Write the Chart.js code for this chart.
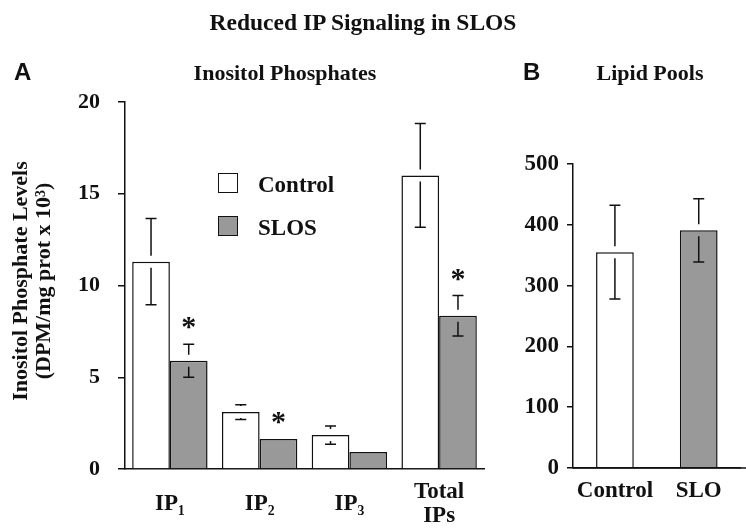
<!DOCTYPE html>
<html><head><meta charset="utf-8">
<script src="https://cdn.jsdelivr.net/npm/chart.js@4"></script>
<style>
html,body{margin:0;padding:0;background:#fff}
body{width:746px;height:532px;overflow:hidden;position:relative;font-family:"Liberation Serif","Times New Roman",serif;font-weight:bold;color:#111}
.t{position:absolute;white-space:nowrap;line-height:1}
.sans{font-family:"Liberation Sans",Arial,sans-serif}
canvas{position:absolute;top:0}
.box{position:absolute;width:18px;height:18px;border:1.5px solid #111}
sup{font-size:14px;vertical-align:top;position:relative;top:-2px}
</style></head><body>
<canvas id="ca" width="500" height="532" style="left:0"></canvas>
<canvas id="cb" width="246" height="532" style="left:500px"></canvas>

<div class="t" style="left:0;width:726px;top:11px;text-align:center;font-size:23.5px">Reduced IP Signaling in SLOS</div>
<div class="t sans" style="left:14px;top:60px;font-size:24px">A</div>
<div class="t sans" style="left:523px;top:60px;font-size:24px">B</div>
<div class="t" style="left:135px;width:300px;top:62px;text-align:center;font-size:22px">Inositol Phosphates</div>
<div class="t" style="left:550px;width:200px;top:62px;text-align:center;font-size:22px">Lipid Pools</div>
<div class="t" style="left:-119px;top:258px;width:300px;height:46px;text-align:center;font-size:22px;line-height:23px;transform:rotate(-90deg)">Inositol Phosphate Levels<br>(DPM/mg prot x 10<sup>3</sup>)</div>

<div class="box" style="left:218px;top:173px;background:#fff"></div>
<div class="t" style="left:258px;top:173px;font-size:23px">Control</div>
<div class="box" style="left:218px;top:216px;background:#999"></div>
<div class="t" style="left:258px;top:216px;font-size:23px">SLOS</div>

<script>
// Panel A data
const categoriesA = ['IP\u2081', 'IP\u2082', 'IP\u2083', ['Total', 'IPs']];
const controlA = [11.3, 3.1, 1.85, 16.0];
const controlErrA = [2.35, 0.4, 0.5, 2.83];
const slosA = [5.9, 1.63, 0.93, 8.35];
const slosErrA = [0.9, 0, 0, 1.1];
const sigA = [true, true, false, true];
const ticksA = [0, 5, 10, 15, 20];

// Panel B data
const categoriesB = ['Control', 'SLO'];
const valuesB = [355, 391];
const errB = [77, 52];
const ticksB = [0, 100, 200, 300, 400, 500];

const INK = '#111';
const GREY = '#999';
const FONT = '"Liberation Serif","Times New Roman",serif';

const errPlugin = {
  id: 'errbars',
  afterDatasetsDraw(chart) {
    const ctx = chart.ctx, ys = chart.scales.y;
    ctx.save();
    ctx.strokeStyle = INK; ctx.lineWidth = 1.5; ctx.fillStyle = INK;
    chart.data.datasets.forEach((ds, i) => {
      const meta = chart.getDatasetMeta(i);
      meta.data.forEach((bar, j) => {
        const v = ds.data[j], e = ds.errors ? ds.errors[j] : 0;
        const x = bar.x, top = bar.y, gap = 6, hw = 5.5;
        let upper = top;
        if (e > 0) {
          const hi = ys.getPixelForValue(v + e), lo = ys.getPixelForValue(v - e);
          ctx.beginPath();
          ctx.moveTo(x - hw, hi); ctx.lineTo(x + hw, hi);
          ctx.moveTo(x - hw, lo); ctx.lineTo(x + hw, lo);
          if (top - gap > hi) { ctx.moveTo(x, hi); ctx.lineTo(x, top - gap); }
          if (lo > top + gap) { ctx.moveTo(x, top + gap); ctx.lineTo(x, lo); }
          ctx.stroke();
          upper = hi;
        }
        if (ds.stars && ds.stars[j]) {
          ctx.font = 'bold 30px ' + FONT;
          ctx.textAlign = 'center';
          ctx.textBaseline = 'alphabetic';
          ctx.fillText('*', x, upper - 22 + 14);
        }
      });
    });
    ctx.restore();
  }
};

// extends the category axis line to the right edge of its canvas (as in panel B)
const axisExtend = {
  id: 'axisExtend',
  afterDraw(chart) {
    const ctx = chart.ctx, a = chart.chartArea;
    const yb = chart.scales.y.getPixelForValue(0);
    ctx.save();
    ctx.strokeStyle = INK; ctx.lineWidth = 1.5;
    ctx.beginPath();
    ctx.moveTo(a.left, yb);
    ctx.lineTo(chart.width, yb);
    ctx.stroke();
    ctx.restore();
  }
};

function tickFont(size) { return { family: FONT, size: size, weight: 'bold', lineHeight: 1.05 }; }

new Chart(document.getElementById('ca'), {
  type: 'bar',
  data: {
    labels: categoriesA,
    datasets: [
      { label: 'Control', data: controlA, errors: controlErrA, backgroundColor: '#fff', borderColor: INK, borderWidth: 1.5 },
      { label: 'SLOS', data: slosA, errors: slosErrA, stars: sigA, backgroundColor: GREY, borderColor: INK, borderWidth: 1.5 }
    ]
  },
  options: {
    responsive: false, animation: false, devicePixelRatio: 1,
    categoryPercentage: 0.84, barPercentage: 1,
    layout: { padding: { top: 102, right: 16, bottom: 0, left: 0 } },
    plugins: { legend: { display: false }, tooltip: { enabled: false } },
    scales: {
      x: {
        grid: { display: false, drawTicks: false },
        border: { display: true, color: INK, width: 1.5 },
        ticks: { color: INK, font: tickFont(23), padding: 23, crossAlign: 'center', maxRotation: 0, autoSkip: false },
        afterFit(s) { s.height = 63; }
      },
      y: {
        min: 0, max: 20,
        afterBuildTicks(s) { s.ticks = ticksA.map(v => ({ value: v })); },
        grid: { display: true, drawOnChartArea: false, drawTicks: true, tickLength: 7, color: INK, lineWidth: 1.5 },
        border: { display: true, color: INK, width: 1.5 },
        ticks: { color: INK, font: tickFont(22), padding: 18 },
        afterFit(s) { s.width = 125; }
      }
    }
  },
  plugins: [errPlugin]
});

new Chart(document.getElementById('cb'), {
  type: 'bar',
  data: {
    labels: categoriesB,
    datasets: [
      { label: 'Lipid Pools', data: valuesB, errors: errB, backgroundColor: ['#fff', GREY], borderColor: INK, borderWidth: 1.5 }
    ]
  },
  options: {
    responsive: false, animation: false, devicePixelRatio: 1,
    categoryPercentage: 1, barPercentage: 0.45,
    layout: { padding: { top: 164, right: 5, bottom: 0, left: 0 } },
    plugins: { legend: { display: false }, tooltip: { enabled: false } },
    scales: {
      x: {
        grid: { display: false, drawTicks: false },
        border: { display: true, color: INK, width: 1.5 },
        ticks: { color: INK, font: tickFont(23), padding: 23, crossAlign: 'center', maxRotation: 0, autoSkip: false },
        afterFit(s) { s.height = 64; }
      },
      y: {
        min: 0, max: 500,
        afterBuildTicks(s) { s.ticks = ticksB.map(v => ({ value: v })); },
        grid: { display: true, drawOnChartArea: false, drawTicks: true, tickLength: 6, color: INK, lineWidth: 1.5 },
        border: { display: true, color: INK, width: 1.5 },
        ticks: { color: INK, font: tickFont(23), padding: 8 },
        afterFit(s) { s.width = 73; }
      }
    }
  },
  plugins: [errPlugin, axisExtend]
});
</script>
</body></html>
